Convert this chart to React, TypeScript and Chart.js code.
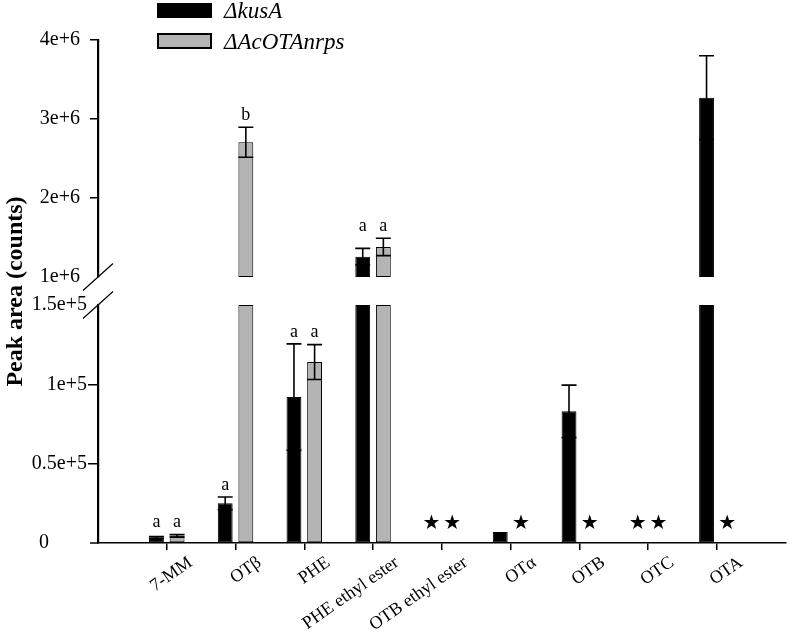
import React, { useEffect, useRef } from 'react';
import { Chart, registerables } from 'chart.js';

Chart.register(...registerables);

const categories = ['7-MM', 'OTβ', 'PHE', 'PHE ethyl ester', 'OTB ethyl ester', 'OTα', 'OTB', 'OTC', 'OTA'];
const kusA: (number | null)[] = [3500, 25000, 92000, 1257000, null, 7000, 83000, null, 3270000];
const kusAErr = [600, 4000, 33500, 105000, 0, 0, 16500, 0, 530000];
const kusALetters = ['a', 'a', 'a', 'a', '', '', '', '', ''];
const nrps: (number | null)[] = [4500, 2705000, 114000, 1380000, null, null, null, null, null];
const nrpsErr = [800, 190000, 11000, 110000, 0, 0, 0, 0, 0];
const nrpsLetters = ['a', 'b', 'a', 'a', '', '', '', '', ''];

const lowTickValues = [0, 50000, 100000, 150000];
const lowTickLabels = ['0', '0.5e+5', '1e+5', '1.5e+5'];
const highTickValues = [1000000, 2000000, 3000000, 4000000];
const highTickLabels = ['1e+6', '2e+6', '3e+6', '4e+6'];

const seriesNames = ['ΔkusA', 'ΔAcOTAnrps'];
const yTitle = 'Peak area (counts)';

const BLACK = '#000000';
const GRAY = '#b4b4b4';
const SERIF = "'Liberation Serif', 'Times New Roman', serif";
const TRANSPARENT = 'rgba(0,0,0,0)';

const LOW_MAX = lowTickValues[lowTickValues.length - 1];
const HIGH_MIN = highTickValues[0];
const HIGH_MAX = highTickValues[highTickValues.length - 1];

const paddedLabels = ['', ...categories, ''];
const pad = (a: any[]) => [null, ...a, null];
const lowPart = (vals: (number | null)[]) => pad(vals.map(v => (v == null ? null : Math.min(v, LOW_MAX))));
const highPart = (vals: (number | null)[]) => pad(vals.map(v => (v != null && v > LOW_MAX ? [HIGH_MIN, v] : null)));

const annotationPlugin = {
  id: 'annotations',
  afterDatasetsDraw(chart: any) {
    const { ctx, scales } = chart;
    const yLow = scales.yLow;
    const yHigh = scales.yHigh;
    const yOf = (v: number) => (v > LOW_MAX ? yHigh.getPixelForValue(v) : yLow.getPixelForValue(v));
    const series = [
      { vals: kusA, errs: kusAErr, letters: kusALetters, meta: chart.getDatasetMeta(0) },
      { vals: nrps, errs: nrpsErr, letters: nrpsLetters, meta: chart.getDatasetMeta(1) },
    ];
    ctx.save();
    ctx.strokeStyle = BLACK;
    ctx.lineWidth = 1.6;
    const caps: number[][] = [[], []];
    const xs: number[][] = [[], []];
    series.forEach((s, si) => {
      s.vals.forEach((v, i) => {
        const el = s.meta.data[i + 1];
        const cx = el.x;
        xs[si][i] = cx;
        if (v == null) return;
        const e = s.errs[i];
        const top = yOf(v + e);
        caps[si][i] = top;
        if (e > 0) {
          const bot = yOf(v - e);
          ctx.beginPath();
          ctx.moveTo(cx, top);
          ctx.lineTo(cx, bot);
          ctx.moveTo(cx - 7.5, top);
          ctx.lineTo(cx + 7.5, top);
          ctx.moveTo(cx - 7.5, bot);
          ctx.lineTo(cx + 7.5, bot);
          ctx.stroke();
        }
      });
    });
    // letters
    ctx.fillStyle = BLACK;
    ctx.font = `18px ${SERIF}`;
    ctx.textAlign = 'center';
    ctx.textBaseline = 'middle';
    categories.forEach((_, i) => {
      const l0 = series[0].letters[i];
      const l1 = series[1].letters[i];
      let y0 = caps[0][i] - 12;
      let y1 = caps[1][i] - 12;
      if (l0 && l1 && Math.abs(caps[0][i] - caps[1][i]) < 25) {
        const m = Math.min(caps[0][i], caps[1][i]) - 12;
        y0 = m;
        y1 = m;
      }
      if (l0) ctx.fillText(l0, xs[0][i], y0);
      if (l1) ctx.fillText(l1, xs[1][i], y1);
    });
    // stars for not detected
    ctx.font = "20px 'DejaVu Sans', sans-serif";
    const starY = yLow.getPixelForValue(0) - 19;
    series.forEach((s, si) => {
      s.vals.forEach((v, i) => {
        if (v == null) ctx.fillText('★', xs[si][i], starY);
      });
    });
    ctx.restore();
  },
  afterDraw(chart: any) {
    const { ctx, scales, chartArea } = chart;
    const yLow = scales.yLow;
    const yHigh = scales.yHigh;
    const ax = chartArea.left;
    ctx.save();
    // axis break slashes
    ctx.strokeStyle = BLACK;
    ctx.lineWidth = 1.2;
    [yHigh.bottom, yLow.top].forEach((y: number) => {
      ctx.beginPath();
      ctx.moveTo(ax - 15, y + 13.5);
      ctx.lineTo(ax + 15, y - 13.5);
      ctx.stroke();
    });
    // x-axis extension to the left
    ctx.lineWidth = 1.5;
    ctx.beginPath();
    ctx.moveTo(ax - 8, chartArea.bottom);
    ctx.lineTo(ax, chartArea.bottom);
    ctx.stroke();
    // zero label
    ctx.fillStyle = BLACK;
    ctx.font = `20px ${SERIF}`;
    ctx.textAlign = 'center';
    ctx.textBaseline = 'middle';
    ctx.fillText(lowTickLabels[0], 44, yLow.getPixelForValue(0));
    // y title
    ctx.save();
    ctx.translate(22, (chartArea.top + chartArea.bottom) / 2);
    ctx.rotate(-Math.PI / 2);
    ctx.font = `bold 24px ${SERIF}`;
    ctx.textAlign = 'center';
    ctx.textBaseline = 'alphabetic';
    ctx.fillText(yTitle, 0, 0);
    ctx.restore();
    // legend
    ctx.fillStyle = BLACK;
    ctx.fillRect(157, 3, 55, 15);
    ctx.fillStyle = GRAY;
    ctx.fillRect(158, 34, 53, 14);
    ctx.strokeStyle = BLACK;
    ctx.lineWidth = 2;
    ctx.strokeRect(158, 34, 53, 14);
    ctx.fillStyle = BLACK;
    ctx.font = `italic 23px ${SERIF}`;
    ctx.textAlign = 'left';
    ctx.textBaseline = 'middle';
    ctx.fillText(seriesNames[0], 224, 12);
    ctx.fillText(seriesNames[1], 224, 43);
    ctx.restore();
  },
};

export default function App() {
  const canvasRef = useRef<HTMLCanvasElement | null>(null);

  useEffect(() => {
    document.body.style.margin = '0';
    const canvas = canvasRef.current;
    if (!canvas) return;
    const barCommon = {
      borderWidth: 1,
      borderSkipped: false as const,
      barPercentage: 0.72,
      categoryPercentage: 0.6,
    };
    const chart = new Chart(canvas, {
      type: 'bar',
      data: {
        labels: paddedLabels,
        datasets: [
          { label: seriesNames[0], data: lowPart(kusA), yAxisID: 'yLow', stack: 'k', backgroundColor: BLACK, borderColor: BLACK, ...barCommon },
          { label: seriesNames[1], data: lowPart(nrps), yAxisID: 'yLow', stack: 'g', backgroundColor: GRAY, borderColor: BLACK, ...barCommon },
          { label: seriesNames[0] + ' high', data: highPart(kusA), yAxisID: 'yHigh', stack: 'k', backgroundColor: BLACK, borderColor: BLACK, ...barCommon },
          { label: seriesNames[1] + ' high', data: highPart(nrps), yAxisID: 'yHigh', stack: 'g', backgroundColor: GRAY, borderColor: BLACK, ...barCommon },
        ] as any,
      },
      options: {
        responsive: false,
        animation: false,
        layout: { padding: { top: 40, right: 3, left: 0, bottom: 0 } },
        plugins: { legend: { display: false }, tooltip: { enabled: false } },
        scales: {
          x: {
            type: 'category',
            offset: false,
            stacked: true,
            grid: {
              offset: false,
              drawOnChartArea: false,
              drawTicks: true,
              tickLength: 7,
              lineWidth: 1.5,
              color: (c: any) => (c.index === 0 || c.index === paddedLabels.length - 1 ? TRANSPARENT : BLACK),
            },
            border: { display: true, color: BLACK, width: 1.5 },
            ticks: {
              autoSkip: false,
              maxRotation: 35,
              minRotation: 35,
              labelOffset: 24,
              padding: 2,
              color: BLACK,
              font: { family: SERIF, size: 18 },
            },
            afterFit: (s: any) => { s.height = 91; },
          },
          yLow: {
            type: 'linear',
            position: 'left',
            stack: 'y',
            stackWeight: 238,
            weight: 1,
            min: 0,
            max: LOW_MAX,
            stacked: false,
            afterBuildTicks: (s: any) => { s.ticks = lowTickValues.map(v => ({ value: v })); },
            ticks: {
              padding: 1,
              color: BLACK,
              font: { family: SERIF, size: 20 },
              callback: (v: any) => { const i = lowTickValues.indexOf(Number(v)); return i > 0 ? lowTickLabels[i] : ''; },
            },
            grid: {
              drawOnChartArea: false,
              tickLength: 10,
              lineWidth: 1.5,
              color: (c: any) => (c.tick && (c.tick.value === 0 || c.tick.value === LOW_MAX) ? TRANSPARENT : BLACK),
            },
            border: { display: true, color: BLACK, width: 2.2 },
            afterFit: (s: any) => { s.width = 98; },
          },
          yGap: {
            type: 'linear',
            position: 'left',
            stack: 'y',
            stackWeight: 28,
            weight: 2,
            display: false,
            min: 0,
            max: 1,
          },
          yHigh: {
            type: 'linear',
            position: 'left',
            stack: 'y',
            stackWeight: 237,
            weight: 3,
            min: HIGH_MIN,
            max: HIGH_MAX,
            stacked: false,
            afterBuildTicks: (s: any) => { s.ticks = highTickValues.map(v => ({ value: v })); },
            ticks: {
              padding: 10,
              color: BLACK,
              font: { family: SERIF, size: 20 },
              callback: (v: any) => { const i = highTickValues.indexOf(Number(v)); return i >= 0 ? highTickLabels[i] : ''; },
            },
            grid: {
              drawOnChartArea: false,
              tickLength: 8,
              lineWidth: 1.5,
              color: (c: any) => (c.tick && c.tick.value === HIGH_MIN ? TRANSPARENT : BLACK),
            },
            border: { display: true, color: BLACK, width: 2.2 },
            afterFit: (s: any) => { s.width = 98; },
          },
        } as any,
      },
      plugins: [annotationPlugin],
    });
    return () => chart.destroy();
  }, []);

  return (
    <div style={{ width: 800, height: 634, background: '#fff' }}>
      <canvas ref={canvasRef} width={800} height={634} />
    </div>
  );
}
